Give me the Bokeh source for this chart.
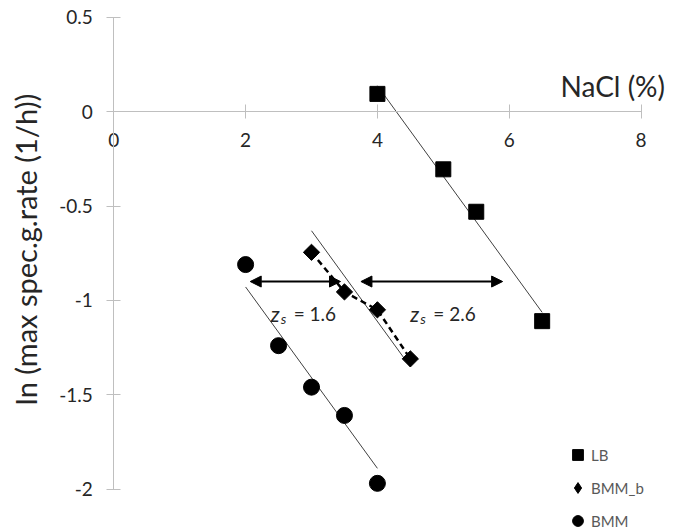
import numpy as np
from bokeh.plotting import figure
from bokeh.models import (LinearAxis, FixedTicker, Legend, LegendItem, Arrow,
                          NormalHead, Label, ColumnDataSource)
from bokeh.embed import file_html
from bokeh.resources import INLINE
from bokeh.core.properties import value

# ---------------- data ----------------
lb_x = [4.0, 5.0, 5.5, 6.5]
lb_y = [0.095, -0.305, -0.53, -1.11]

bmmb_x = [3.0, 3.5, 4.0, 4.5]
bmmb_y = [-0.745, -0.955, -1.05, -1.31]

bmm_x = [2.0, 2.5, 3.0, 3.5, 4.0]
bmm_y = [-0.81, -1.24, -1.46, -1.61, -1.97]

series_names = ["LB", "BMM_b", "BMM"]
# horizontal shift of the LB trend line used for each series (NaCl %)
trend_shift = [0.0, 2.6, 4.22]

# z_s annotations
zs_values = [1.6, 2.6]
zs_label_x = [2.38, 4.50]
zs_label_y = [-1.07, -1.07]
arrow_y = [-0.90, -0.90]
arrow_x0 = [2.07, 3.75]
arrow_x1 = [3.44, 5.90]

x_ticks = [0.0, 2.0, 4.0, 6.0, 8.0]
x_tick_labels = ["0", "2", "4", "6", "8"]
y_ticks = [0.5, 0.0, -0.5, -1.0, -1.5, -2.0]
y_tick_labels = ["0.5", "0", "-0.5", "-1", "-1.5", "-2"]

x_title = "NaCl (%)"
y_title = "ln (max spec.g.rate (1/h))"

FONT = "Lato"
TXT = "#262626"
AXC = "#bfbfbf"

# ---------------- figure ----------------
p = figure(width=680, height=528, x_range=(-1.719, 8.599), y_range=(-2.2094, 0.5901),
           output_backend="svg", toolbar_location=None,
           x_axis_location=None, y_axis_location=None, min_border=0)
p.outline_line_color = None
p.background_fill_color = "white"
p.border_fill_color = "white"
for g in p.grid:
    g.visible = False


def style_axis(ax):
    ax.axis_line_color = AXC
    ax.axis_line_width = 1
    ax.major_tick_line_color = AXC
    ax.major_tick_in = 7
    ax.major_tick_out = 7
    ax.minor_tick_line_color = None
    ax.major_label_text_font = FONT
    ax.major_label_text_font_size = "19px"
    ax.major_label_text_color = TXT


xaxis = LinearAxis(fixed_location=0, bounds=(0, 8), ticker=FixedTicker(ticks=x_ticks),
                   major_label_overrides={t: l for t, l in zip(x_ticks, x_tick_labels)})
style_axis(xaxis)
xaxis.major_label_standoff = 14
p.add_layout(xaxis, "below")

yaxis = LinearAxis(fixed_location=0, bounds=(-2, 0.5), ticker=FixedTicker(ticks=y_ticks),
                   major_label_overrides={t: l for t, l in zip(y_ticks, y_tick_labels)})
style_axis(yaxis)
yaxis.major_label_standoff = 14
p.add_layout(yaxis, "left")

# ---------------- trend lines (LB fit, shifted) ----------------
slope, intercept = np.polyfit(lb_x, lb_y, 1)
for xs, shift in zip([lb_x, bmmb_x, bmm_x], trend_shift):
    tx = np.array([min(xs), max(xs)])
    ty = slope * (tx + shift) + intercept
    p.line(tx, ty, line_color="#404040", line_width=1)

# dashed connection for BMM_b
p.line(bmmb_x, bmmb_y, line_color="black", line_width=2.5, line_dash="6 4")

# ---------------- markers ----------------
r_lb = p.scatter(lb_x, lb_y, marker="square", size=15, color="black")
p.scatter(bmmb_x, bmmb_y, marker="square", angle=np.pi / 4, size=11.5, color="black")
r_bmm = p.scatter(bmm_x, bmm_y, marker="circle", size=16, color="black")
# legend-only glyph for BMM_b (not drawn in the plot area)
r_bmmb_leg = p.scatter(x=[np.nan], y=[np.nan], marker="diamond", size=12, color="black")

# ---------------- arrows + z_s labels ----------------
arr_src = ColumnDataSource(dict(x0=arrow_x0, x1=arrow_x1, y=arrow_y))
p.add_layout(Arrow(x_start="x0", y_start="y", x_end="x1", y_end="y", source=arr_src,
                   line_color="black", line_width=2,
                   start=NormalHead(size=11, fill_color="black", line_color="black"),
                   end=NormalHead(size=11, fill_color="black", line_color="black")))

zsrc = ColumnDataSource(dict(x=zs_label_x, y=zs_label_y,
                             z=["z"] * len(zs_values), s=["s"] * len(zs_values),
                             rest=["= %g" % v for v in zs_values]))
p.text(x="x", y="y", text="z", source=zsrc, text_font=value(FONT), text_font_style="italic",
       text_font_size="21px", text_color=TXT, text_baseline="alphabetic")
p.text(x="x", y="y", text="s", source=zsrc, text_font=value(FONT), text_font_style="italic",
       text_font_size="14px", text_color=TXT, text_baseline="alphabetic", x_offset=10, y_offset=5)
p.text(x="x", y="y", text="rest", source=zsrc, text_font=value(FONT),
       text_font_size="19px", text_color=TXT, text_baseline="alphabetic", x_offset=23)

# ---------------- titles ----------------
p.add_layout(Label(x=8, y=0, text=x_title, text_align="right", text_baseline="alphabetic",
                   x_offset=24, y_offset=26, text_font=FONT, text_font_size="28px",
                   text_color=TXT))
p.add_layout(Label(x=25, y=279, x_units="screen", y_units="screen", text=y_title,
                   angle=np.pi / 2, text_align="center", text_baseline="middle",
                   text_font=FONT, text_font_size="29px", text_color=TXT))

# ---------------- legend ----------------
legend = Legend(items=[LegendItem(label=series_names[0], renderers=[r_lb]),
                       LegendItem(label=series_names[1], renderers=[r_bmmb_leg]),
                       LegendItem(label=series_names[2], renderers=[r_bmm])],
                location=(564, -6), glyph_width=27, glyph_height=27, spacing=6,
                padding=0, margin=0, label_standoff=0,
                label_text_font=FONT, label_text_font_size="15px", label_text_color="#595959",
                border_line_color=None, background_fill_alpha=0)
p.add_layout(legend)

open("out.html", "w").write(file_html(p, INLINE))
